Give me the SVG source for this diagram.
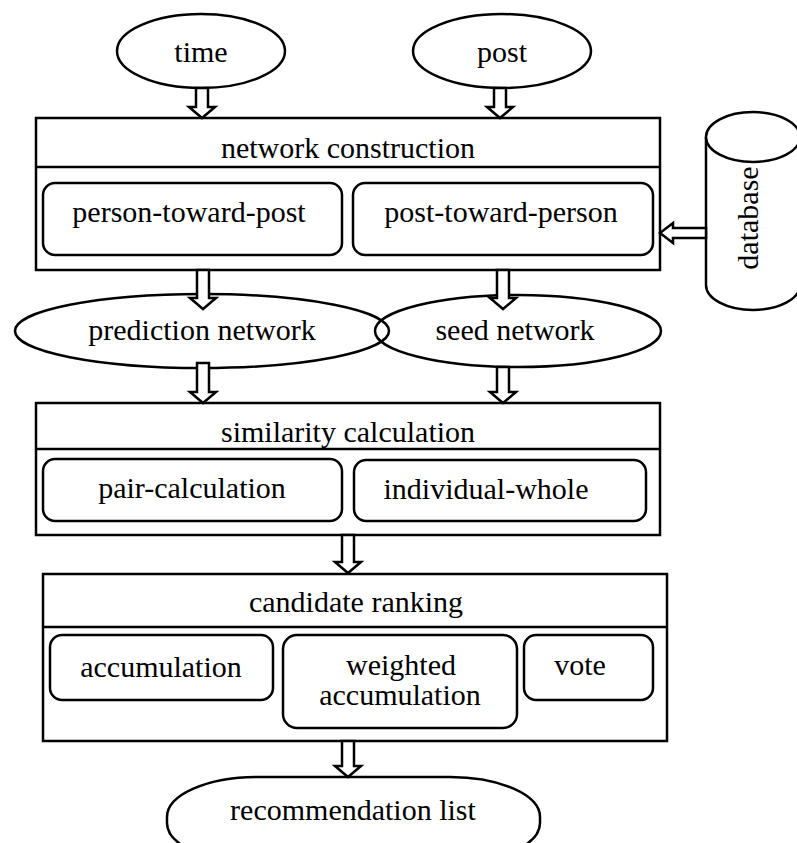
<svg xmlns="http://www.w3.org/2000/svg" width="797" height="843" viewBox="0 0 797 843">
<style>
.s{fill:#fff;stroke:#000;stroke-width:2.5}
.n{fill:none;stroke:#000;stroke-width:2.5}
.a{fill:#fff;stroke:#000;stroke-width:2.5;stroke-linejoin:miter}
text{font-family:"Liberation Serif","Times New Roman",serif;font-size:30px;fill:#000;text-anchor:middle}
</style>
<rect width="797" height="843" fill="#fff"/>
<g id="time"><ellipse class="s" cx="201" cy="51" rx="84" ry="37"/><text x="201" y="62">time</text></g>
<g id="post"><ellipse class="s" cx="502" cy="51" rx="89" ry="37"/><text x="502" y="62">post</text></g>
<g id="network-construction">
<rect class="s" x="36" y="118" width="624" height="152"/>
<line class="n" x1="36" y1="167" x2="660" y2="167"/>
<text x="348" y="158">network construction</text>
<g id="person-toward-post"><rect class="s" x="43" y="183" width="299" height="72" rx="12"/><text x="189" y="222">person-toward-post</text></g>
<g id="post-toward-person"><rect class="s" x="353" y="183" width="300" height="72" rx="12"/><text x="501" y="222">post-toward-person</text></g>
</g>
<g id="database">
<path class="s" d="M706,137 L706,285 A47,25 0 0 0 800,285 L800,137"/>
<ellipse class="s" cx="753" cy="137" rx="47" ry="25"/>
<text x="0" y="0" transform="translate(758,218) rotate(-90)">database</text>
</g>
<g id="prediction-network"><ellipse class="n" cx="202" cy="331" rx="187" ry="37"/><text x="202" y="340">prediction network</text></g>
<g id="seed-network"><ellipse class="n" cx="518" cy="331" rx="143" ry="36"/><text x="515" y="340">seed network</text></g>
<g id="similarity-calculation">
<rect class="s" x="36" y="403" width="624" height="132"/>
<line class="n" x1="36" y1="449" x2="660" y2="449"/>
<text x="348" y="442">similarity calculation</text>
<g id="pair-calculation"><rect class="s" x="43" y="459" width="299" height="62" rx="12"/><text x="192" y="498">pair-calculation</text></g>
<g id="individual-whole"><rect class="s" x="354" y="460" width="292" height="61" rx="12"/><text x="486" y="499">individual-whole</text></g>
</g>
<g id="candidate-ranking">
<rect class="s" x="43" y="574" width="624" height="167"/>
<line class="n" x1="43" y1="627" x2="667" y2="627"/>
<text x="356" y="612">candidate ranking</text>
<g id="accumulation"><rect class="s" x="50" y="635" width="223" height="65" rx="12"/><text x="161" y="677">accumulation</text></g>
<g id="weighted-accumulation"><rect class="s" x="283" y="635" width="234" height="93" rx="14"/><text x="401" y="675">weighted</text><text x="400" y="705">accumulation</text></g>
<g id="vote"><rect class="s" x="524" y="635" width="129" height="65" rx="12"/><text x="580" y="675">vote</text></g>
</g>
<g id="recommendation-list"><rect class="s" x="167" y="777" width="373" height="86" rx="90" ry="40"/><text x="353" y="820">recommendation list</text></g>
<g id="connectors">
<polygon class="a" points="196,88 208,88 208,107 215,107 202,118 189,107 196,107"/>
<polygon class="a" points="494,88 506,88 506,107 513,107 500,118 487,107 494,107"/>
<polygon class="a" points="197,270 209,270 209,298 216,298 203,309 190,298 197,298"/>
<polygon class="a" points="497,270 509,270 509,298 516,298 503,309 490,298 497,298"/>
<polygon class="a" points="197,363 209,363 209,392 216,392 203,403 190,392 197,392"/>
<polygon class="a" points="497,367 509,367 509,392 516,392 503,403 490,392 497,392"/>
<polygon class="a" points="342,535 354,535 354,562 361,562 348,573 335,562 342,562"/>
<polygon class="a" points="342,741 354,741 354,766 361,766 348,777 335,766 342,766"/>
<polygon class="a" points="706,228 673,228 673,223 660,233 673,243 673,238 706,238"/>
</g>
</svg>
